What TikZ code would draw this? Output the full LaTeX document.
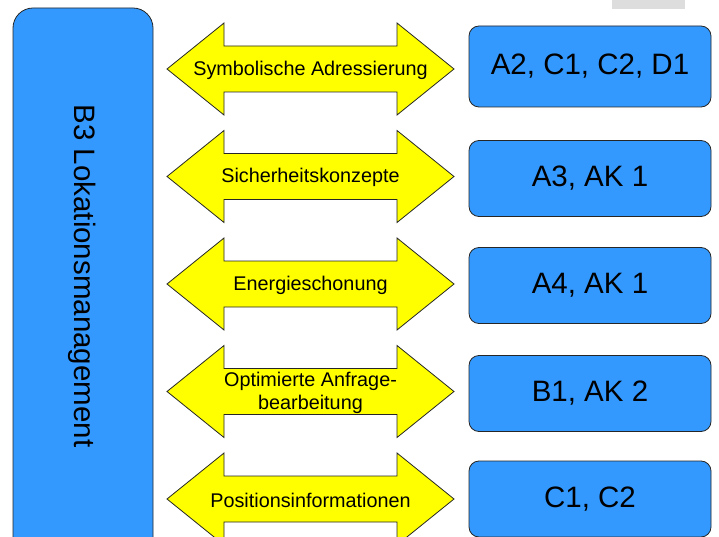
\documentclass[tikz,border=0pt]{standalone}
\usepackage{fontspec}
\setmainfont{Liberation Sans}
\definecolor{boxblue}{HTML}{3399FF}
\definecolor{arrowyellow}{HTML}{FFFF00}
\definecolor{tabgray}{HTML}{DDDDDD}

\begin{document}
\begin{tikzpicture}[x=1pt,y=-1pt,
  bluebox/.style={draw=black!85,line width=0.8pt,fill=boxblue,rounded corners=10pt,
    minimum width=242pt,minimum height=76pt,inner sep=0pt,font=\fontsize{29.5}{35}\selectfont},
  arrowtext/.style={font=\fontsize{19.8}{23}\selectfont,align=center,inner sep=0pt}]
  \useasboundingbox (0,0) rectangle (719,537);
  \fill[tabgray] (612,0) rectangle (685,9);
  % left block
  \draw[draw=black!85,line width=0.8pt,fill=boxblue,rounded corners=20pt] (13,8) rectangle (153,600);
  \node[rotate=-90,font=\fontsize{29.5}{35}\selectfont] (lok) at (82,276) {B3 Lokationsmanagement};
  % double arrows
  \foreach \c in {69,176.5,284,391.5,499}
    \draw[draw=black!85,line width=0.8pt,fill=arrowyellow]
      (167,\c) -- (224,\c-46) -- (224,\c-23) -- (397,\c-23) -- (397,\c-46)
      -- (454,\c) -- (397,\c+46) -- (397,\c+23) -- (224,\c+23) -- (224,\c+46) -- cycle;
  \node[arrowtext] (adr) at (310.5,70) {Symbolische Adressierung};
  \node[arrowtext] (sich) at (310.5,177.5) {Sicherheitskonzepte};
  \node[arrowtext] (ener) at (310.5,285) {Energieschonung};
  \node[arrowtext] (anfr) at (310.5,392.5) {Optimierte Anfrage-\\bearbeitung};
  \node[arrowtext] (pos) at (310.5,500) {Positionsinformationen};
  % project boxes
  \node[bluebox,minimum height=81pt] (p1) at (590,66.5) {A2, C1, C2, D1};
  \node[bluebox] (p2) at (590,178.5) {A3, AK 1};
  \node[bluebox] (p3) at (590,285.5) {A4, AK 1};
  \node[bluebox] (p4) at (590,393.5) {B1, AK 2};
  \node[bluebox] (p5) at (590,499) {C1, C2};
\end{tikzpicture}
\end{document}
